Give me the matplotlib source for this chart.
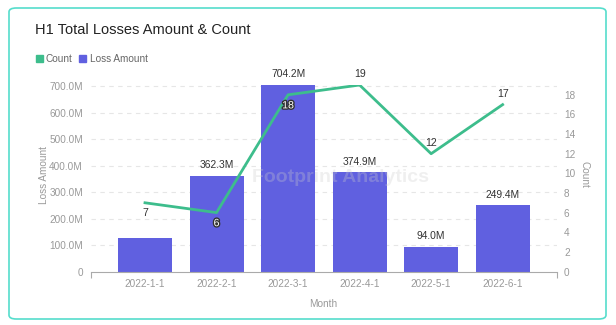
import matplotlib
matplotlib.use("Agg")
import matplotlib.pyplot as plt
from matplotlib.patches import FancyBboxPatch, Rectangle
from matplotlib.ticker import FuncFormatter, FixedLocator
import matplotlib.patheffects as pe

months = ["2022-1-1", "2022-2-1", "2022-3-1", "2022-4-1", "2022-5-1", "2022-6-1"]
loss_amount = [128.0e6, 362.3e6, 704.2e6, 374.9e6, 94.0e6, 249.4e6]
loss_labels = ["", "362.3M", "704.2M", "374.9M", "94.0M", "249.4M"]
count = [7, 6, 18, 19, 12, 17]
count_label_pos = ["below", "below_in", "below_in", "above", "above", "above"]

BAR = "#6060e0"
LINE = "#3dbd8c"
GREY = "#999999"
plt.rcParams['font.family'] = ['Liberation Sans', 'DejaVu Sans']

fig = plt.figure(figsize=(6.16, 3.25), dpi=100)
W, H = 616, 325

# border
fig.patches.append(FancyBboxPatch((9 / W, 6 / H), 597 / W, 311 / H,
                                  boxstyle="round,pad=0,rounding_size=0.012",
                                  transform=fig.transFigure, fill=False,
                                  edgecolor="#55ddcc", linewidth=1.2))

ax = fig.add_axes([91 / W, 1 - 271.5 / H, (557 - 91) / W, (271.5 - 85) / H])
x = list(range(len(months)))
ax.bar(x, loss_amount, width=0.755, color=BAR, zorder=2)
ax.set_xlim(-0.755, 5.76)
ax.set_ylim(0, 704.2e6)
ax.yaxis.set_major_locator(FixedLocator([i * 100e6 for i in range(8)]))
ax.yaxis.set_major_formatter(FuncFormatter(lambda v, p: "0" if v == 0 else f"{v/1e6:.1f}M"))
ax.set_xticks(x)
ax.set_xticklabels(months)
ax.set_xticks([-0.755, 5.76], minor=True)
ax.tick_params(axis="x", which="major", length=0, pad=5.5, labelsize=7.2, labelcolor=GREY)
ax.tick_params(axis="x", which="minor", length=4, color="#aaaaaa", width=0.8)
ax.tick_params(axis="y", length=0, pad=5.8, labelsize=7.2, labelcolor=GREY)
for s in ["top", "right", "left"]:
    ax.spines[s].set_visible(False)
ax.spines["bottom"].set_color("#aaaaaa")
for v in range(1, 8):
    ax.axhline(v * 100e6, color="#e6e6e6", lw=0.8, ls=(0, (4, 4)), zorder=1)
ax.set_ylabel("Loss Amount", fontsize=7.2, color=GREY, va="center")
ax.yaxis.set_label_coords(-0.101, 0.52)
ax.set_xlabel("Month", fontsize=7.2, color=GREY)
ax.xaxis.set_label_coords(0.498, -0.147)

for xi, v, lab in zip(x, loss_amount, loss_labels):
    if lab:
        ax.annotate(lab, (xi, v), xytext=(0, 4), textcoords="offset points",
                    ha="center", va="bottom", fontsize=7.4, color="#333333", zorder=5)

ax2 = ax.twinx()
ax2.plot(x, count, color=LINE, lw=2, zorder=3)
ax2.set_ylim(0, 19)
ax2.set_yticks(range(0, 19, 2))
ax2.tick_params(axis="y", length=0, pad=5, labelsize=7.2, labelcolor=GREY)
for s in ["top", "right", "left", "bottom"]:
    ax2.spines[s].set_visible(False)
ax2.set_ylabel("Count", fontsize=7.2, color=GREY, rotation=270, va="center")
ax2.yaxis.set_label_coords(1.06, 0.52)

for xi, c, pos in zip(x, count, count_label_pos):
    if pos == "above":
        ax2.annotate(str(c), (xi, c), xytext=(0, 4), textcoords="offset points",
                     ha="center", va="bottom", fontsize=7.6, color="#333333")
    elif pos == "below":
        ax2.annotate(str(c), (xi, c), xytext=(0, -4), textcoords="offset points",
                     ha="center", va="top", fontsize=7.6, color="#333333")
    else:
        ax2.annotate(str(c), (xi, c), xytext=(0, -4), textcoords="offset points",
                     ha="center", va="top", fontsize=7.6, color="white",
                     path_effects=[pe.withStroke(linewidth=2, foreground="#333333")])

# watermark
fig.text(340 / W, 1 - 178 / H, "Footprint Analytics", fontsize=14, fontweight="bold",
         color="#cccccc", alpha=0.3, ha="center", va="center")

# title & legend
fig.text(35 / W, 1 - 30 / H, "H1 Total Losses Amount & Count", fontsize=10.5,
         color="#222222", ha="left", va="center")
fig.patches.append(Rectangle((36 / W, 1 - 62 / H), 7 / W, 7 / H,
                             transform=fig.transFigure, color=LINE))
fig.text(46 / W, 1 - 58.5 / H, "Count", fontsize=7.2, color="#666666", va="center")
fig.patches.append(Rectangle((79 / W, 1 - 62 / H), 7 / W, 7 / H,
                             transform=fig.transFigure, color=BAR))
fig.text(90 / W, 1 - 58.5 / H, "Loss Amount", fontsize=7.2, color="#666666", va="center")

fig.savefig("out.png", dpi=100)
